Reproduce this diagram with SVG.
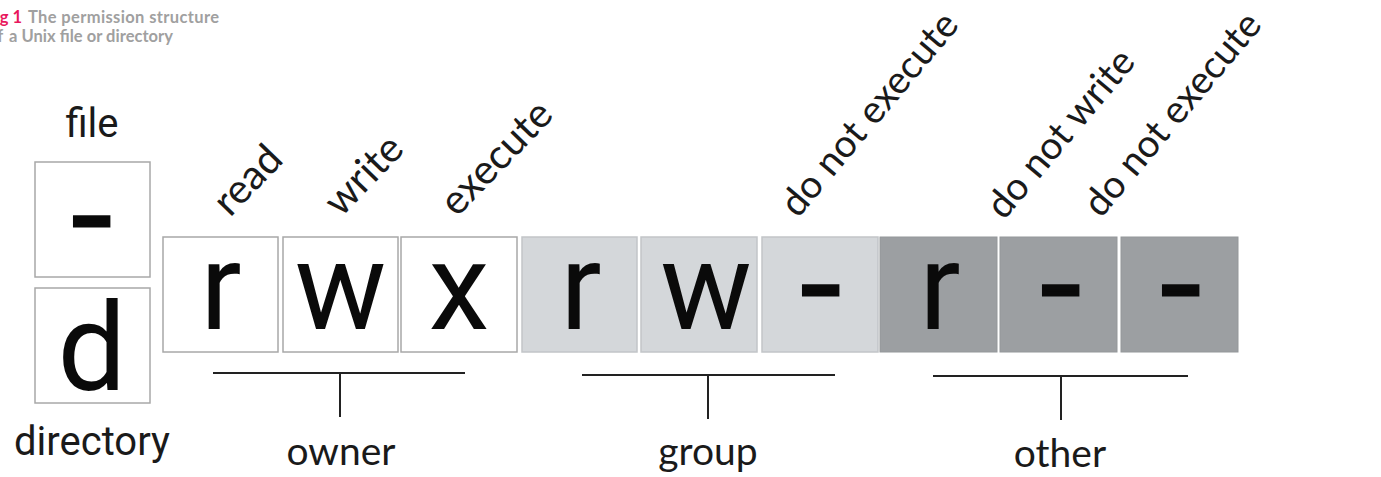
<svg xmlns="http://www.w3.org/2000/svg" width="1381" height="477" viewBox="0 0 1381 477">
<style>
.cap{font-family:Lato,"Open Sans",sans-serif;font-weight:bold;font-size:16.5px;fill:#a0a0a0}
.pink{fill:#e8175d}
.lbl{font-family:Roboto,"Liberation Sans",sans-serif;font-size:40px;fill:#1a1a1a}
.big{font-family:Roboto,"Liberation Sans",sans-serif;font-size:122px;fill:#0a0a0a;text-anchor:middle}
.dash{font-family:Roboto,"Liberation Sans",sans-serif;font-size:64px;font-weight:bold;fill:#0a0a0a;stroke:#0a0a0a;stroke-width:5;text-anchor:middle}
.rot{font-family:Lato,"Open Sans",sans-serif;font-size:41px;fill:#1a1a1a}
.rot2{font-family:Lato,"Open Sans",sans-serif;font-size:38.5px;fill:#1a1a1a}
.bot{font-family:Lato,"Open Sans",sans-serif;font-size:39px;fill:#1a1a1a;text-anchor:middle}
.own{fill:#ffffff;stroke:#a8a8a8;stroke-width:1.5}
.grp{fill:#d4d7da;stroke:#c2c5c8;stroke-width:1.5}
.oth{fill:#9c9fa2;stroke:#94979a;stroke-width:1}
.br{stroke:#222;stroke-width:2;fill:none}
</style>
<rect width="1381" height="477" fill="#ffffff"/>
<g id="caption">
<text class="cap" x="-13.7" y="22.5"><tspan class="pink">Fig 1</tspan><tspan x="28" textLength="191">The permission structure</tspan></text>
<text class="cap" x="-12" y="41.5">of<tspan x="9" textLength="164">a Unix file or directory</tspan></text>
</g>
<g id="type-file">
<text class="lbl" x="92" y="137" text-anchor="middle">file</text>
<rect class="own" x="35" y="162" width="115" height="115"/>
<text class="dash" x="91" y="244">–</text>
</g>
<g id="type-directory">
<rect class="own" x="35" y="288" width="115" height="115"/>
<text class="big" x="92" y="390">d</text>
<text class="lbl" x="92" y="455" text-anchor="middle">directory</text>
</g>
<g id="owner-read">
<rect class="own" x="163" y="237" width="115" height="115"/>
<text class="big" x="221" y="329">r</text>
<text class="rot" transform="translate(230,218) rotate(-46)">read</text>
</g>
<g id="owner-write">
<rect class="own" x="283" y="237" width="115" height="115"/>
<text class="big" x="340.5" y="329">w</text>
<text class="rot" transform="translate(341,218) rotate(-46)">write</text>
</g>
<g id="owner-execute">
<rect class="own" x="401" y="237" width="116" height="115"/>
<text class="big" x="459" y="329">x</text>
<text class="rot" transform="translate(457,218) rotate(-46)">execute</text>
</g>
<g id="group-read">
<rect class="grp" x="522" y="237" width="115" height="115"/>
<text class="big" x="581" y="329">r</text>
</g>
<g id="group-write">
<rect class="grp" x="641" y="237" width="116" height="115"/>
<text class="big" x="706" y="329">w</text>
</g>
<g id="group-execute">
<rect class="grp" x="762" y="237" width="116" height="115"/>
<text class="dash" x="820" y="313">–</text>
<text class="rot2" transform="translate(798,219) rotate(-50)">do not execute</text>
</g>
<g id="other-read">
<rect class="oth" x="880" y="237" width="117" height="115"/>
<text class="big" x="940" y="329">r</text>
</g>
<g id="other-write">
<rect class="oth" x="1000" y="237" width="117" height="115"/>
<text class="dash" x="1060" y="313">–</text>
<text class="rot2" transform="translate(1004,221) rotate(-50)">do not write</text>
</g>
<g id="other-execute">
<rect class="oth" x="1121" y="237" width="117" height="115"/>
<text class="dash" x="1180" y="313">–</text>
<text class="rot2" transform="translate(1101,219) rotate(-50)">do not execute</text>
</g>
<g id="connectors">
<path class="br" d="M213 373H465M340 373V417"/>
<path class="br" d="M582 375H835M708 375V419"/>
<path class="br" d="M933 376H1188M1061 376V420"/>
</g>
<g id="label-owner"><text class="bot" x="341" y="465">owner</text></g>
<g id="label-group"><text class="bot" x="708" y="465">group</text></g>
<g id="label-other"><text class="bot" x="1060" y="467">other</text></g>
</svg>
